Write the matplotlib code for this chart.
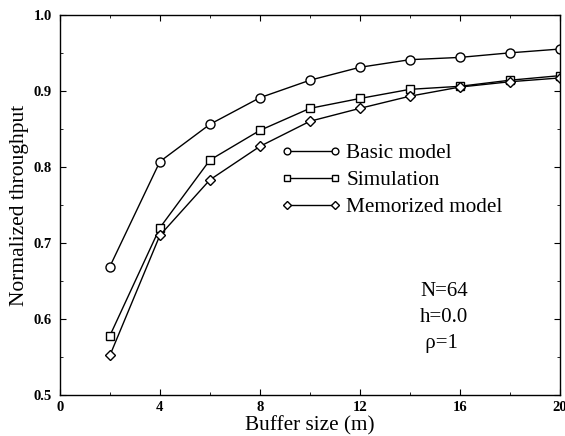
import numpy as np
from matplotlib import pyplot as plt
from matplotlib.ticker import MultipleLocator

buffer_size = [2, 4, 6, 8, 10, 12, 14, 16, 18, 20]
basic_model = [0.669, 0.807, 0.856, 0.891, 0.914, 0.931, 0.941, 0.944, 0.950, 0.955]
simulation = [0.578, 0.720, 0.809, 0.848, 0.877, 0.890, 0.902, 0.906, 0.914, 0.920]
memorized_model = [0.552, 0.710, 0.783, 0.827, 0.860, 0.877, 0.893, 0.905, 0.912, 0.917]

plt.rcParams['font.family'] = ['Liberation Serif', 'DejaVu Serif']

fig = plt.figure(figsize=(5.65, 4.36), dpi=100)
ax = fig.add_axes([0.106, 0.094, 0.885, 0.872])

style = dict(color='black', lw=1.0, mfc='white', mec='black', mew=1.0)
ax.plot(buffer_size, basic_model, marker='o', ms=6.5, label='Basic model', **style)
ax.plot(buffer_size, simulation, marker='s', ms=5.5, label='Simulation', **style)
ax.plot(buffer_size, memorized_model, marker='D', ms=5, label='Memorized model', **style)

ax.set_xlim(0, 20)
ax.set_ylim(0.5, 1.0)
ax.xaxis.set_major_locator(MultipleLocator(4))
ax.xaxis.set_minor_locator(MultipleLocator(2))
ax.yaxis.set_major_locator(MultipleLocator(0.1))
ax.yaxis.set_minor_locator(MultipleLocator(0.05))
ax.tick_params(which='both', direction='in', top=True, right=True)
ax.tick_params(axis='y', pad=6)
ax.tick_params(axis='x', pad=4)
ax.tick_params(which='major', length=4)
ax.tick_params(which='minor', length=2)
ax.set_xticks([0, 4, 8, 12, 16, 20])
ax.set_xticklabels(['0', '4', '8', '12', '16', '20'], fontsize=10.5, fontweight='bold')
ax.set_yticks([0.5, 0.6, 0.7, 0.8, 0.9, 1.0])
ax.set_yticklabels(['0.5', '0.6', '0.7', '0.8', '0.9', '1.0'], fontsize=10.5, fontweight='bold')
for s in ax.spines.values():
    s.set_linewidth(1.0)

ax.set_xlabel('Buffer size (m)', fontsize=15.3)
ax.xaxis.set_label_coords(0.5, -0.092)
ax.xaxis.label.set_verticalalignment('baseline')
ax.set_ylabel('Normalized throughput', fontsize=15.5, labelpad=3)

ax.legend(loc='upper left', bbox_to_anchor=(0.441, 0.662), frameon=False, fontsize=15.3,
          numpoints=2, markerscale=0.75, handlelength=2.85, handletextpad=0.26,
          labelspacing=0.33, borderaxespad=0, borderpad=0)

ax.text(0.72, 0.205, 'N=64\nh=0.0\n ρ=1', transform=ax.transAxes, fontsize=15,
        va='center', ha='left', linespacing=1.5)

fig.savefig('out.png', dpi=100)
